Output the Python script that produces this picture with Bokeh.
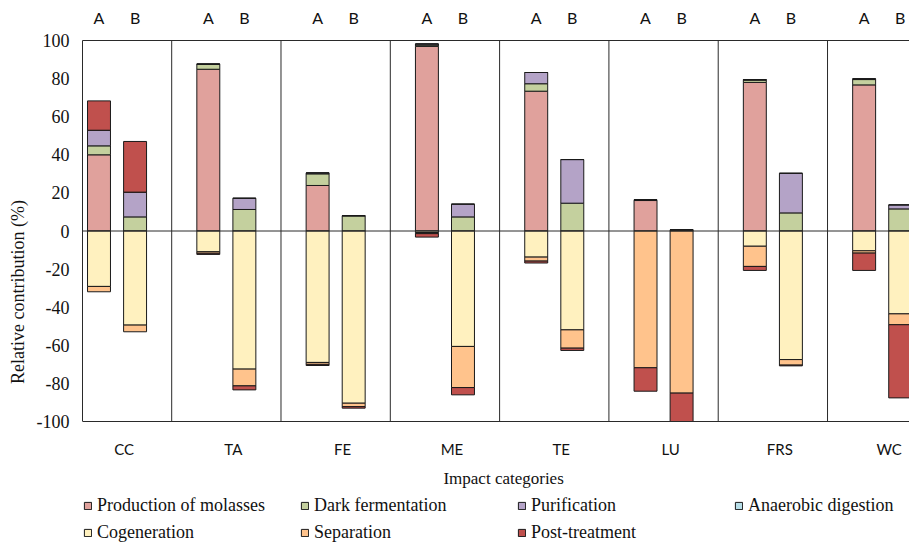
import numpy as np
from bokeh.plotting import figure
from bokeh.models import (ColumnDataSource, Range1d, LinearAxis, FixedTicker,
                          Span, Legend, LegendItem)
from bokeh.core.properties import value
from bokeh.embed import file_html
from bokeh.resources import INLINE

categories = ["CC", "TA", "FE", "ME", "TE", "LU", "FRS", "WC"]
scenarios = ["A", "B"]
y_ticks = [100, 80, 60, 40, 20, 0, -20, -40, -60, -80, -100]
y_tick_labels = ["100", "80", "60", "40", "20", "0", "-20", "-40", "-60", "-80", "-100"]

# values per bar, order: CC A, CC B, TA A, TA B, ... WC A, WC B
production_of_molasses = [40.0, 0, 84.9, 0, 23.9, 0, 96.9, 0, 73.4, 0, 16.0, 0.6, 78.0, 0, 76.7, 0]
dark_fermentation = [4.7, 7.4, 2.5, 11.3, 6.1, 8.0, 0.7, 7.4, 3.9, 14.6, 0.4, 0, 1.2, 9.5, 2.8, 11.6]
purification = [8.2, 13.0, 0.3, 5.9, 0.5, 0, 0.6, 6.7, 5.9, 22.9, 0, 0, 0.3, 20.8, 0.4, 2.1]
anaerobic_digestion = [0, 0, 0, 0, 0, 0, 0, 0, 0, 0, 0, 0, 0, 0, 0, 0]
cogeneration = [-29.1, -49.4, -10.9, -72.5, -69.0, -90.4, -0.8, -60.6, -13.7, -51.9, 0, 0, -8.0, -67.5, -10.4, -43.5]
separation = [-2.8, -3.5, -0.8, -8.8, -1.0, -1.8, -0.6, -21.6, -2.1, -9.6, -71.8, -85.1, -10.6, -2.9, -1.2, -5.7]
post_treatment = [15.4, 26.6, -0.6, -2.1, -0.6, -0.8, -1.8, -3.8, -1.0, -1.2, -12.3, -15.0, -2.1, -0.4, -9.1, -38.4]

series_names = ["Production of molasses", "Dark fermentation", "Purification",
                "Anaerobic digestion", "Cogeneration", "Separation", "Post-treatment"]
series_values = [production_of_molasses, dark_fermentation, purification,
                 anaerobic_digestion, cogeneration, separation, post_treatment]
colors = ["#E0A19C", "#C4D09E", "#B4A3C7", "#B7DEE8", "#FFF1BF", "#FFC38C", "#C0504D"]
x_axis_title = "Impact categories"
y_axis_title = "Relative contribution (%)"

y_min, y_max = -100, 100
offset = 0.165
bar_x = []
ab_ticks = []
ab_labels = {}
for i in range(len(categories)):
    for j, s in enumerate(scenarios):
        xx = i + (-offset if j == 0 else offset)
        bar_x.append(xx)
        ab_ticks.append(xx)
        ab_labels[xx] = s
bar_x = np.array(bar_x)

# frame spans the whole lower area so the legend can live inside it;
# the value scale keeps 381 px for 200 units
px_per_unit = 381 / (y_max - y_min)
frame_bottom_value = y_min - 122 / px_per_unit

p = figure(width=909, height=543, output_backend="svg", toolbar_location=None,
           x_range=Range1d(-0.316, 7.25), y_range=Range1d(frame_bottom_value, y_max),
           min_border_left=82, min_border_right=0, min_border_top=40, min_border_bottom=0,
           x_axis_location=None, y_axis_location=None)
p.outline_line_color = None
p.grid.visible = False
p.background_fill_color = "white"
p.border_fill_color = "white"

pos_base = np.zeros(len(bar_x))
neg_base = np.zeros(len(bar_x))
renderers = []
for name, vals, col in zip(series_names, series_values, colors):
    v = np.array(vals, dtype=float)
    bottom = np.where(v >= 0, pos_base, neg_base)
    top = bottom + v
    pos_base = np.where(v > 0, top, pos_base)
    neg_base = np.where(v < 0, top, neg_base)
    src = ColumnDataSource(dict(x=bar_x, bottom=bottom, top=np.maximum(top, y_min)))
    r = p.vbar(x="x", bottom="bottom", top="top", width=0.21, source=src,
               fill_color=col, line_color="#1a1a1a", line_width=1)
    renderers.append(r)

line_col = "#2a2a2a"
# zero line, bottom line and category separators
p.add_layout(Span(location=0, dimension="width", line_color=line_col, line_width=1))
p.add_layout(Span(location=y_min, dimension="width", line_color=line_col, line_width=1))
sep_x = [i + 0.5 for i in range(len(categories) - 1)]
p.segment(x0=sep_x, x1=sep_x, y0=[y_min] * len(sep_x), y1=[y_max] * len(sep_x),
          line_color=line_col, line_width=1)

serif = "Liberation Serif"
sans = "Lato"

# category labels and x-axis title under the value range
p.text(x=[i for i in range(len(categories))], y=[y_min] * len(categories), text=categories,
       x_offset=7, y_offset=27, text_align="center", text_baseline="middle",
       text_font=value(sans), text_font_size="15px", text_color="#111111")
p.text(x=[(len(categories) - 1) / 2], y=[y_min], text=[x_axis_title],
       x_offset=4, y_offset=57, text_align="center", text_baseline="middle",
       text_font=value(serif), text_font_size="17px", text_color="#111111")

yaxis = LinearAxis(ticker=FixedTicker(ticks=y_ticks), bounds=(y_min, y_max),
                   major_label_overrides={t: l for t, l in zip(y_ticks, y_tick_labels)})
yaxis.axis_label = y_axis_title
yaxis.axis_label_text_font = serif
yaxis.axis_label_text_font_style = "normal"
yaxis.axis_label_text_font_size = "18px"
yaxis.axis_label_text_color = "#111111"
yaxis.axis_label_standoff = 6
yaxis.major_label_text_font = serif
yaxis.major_label_text_font_size = "18px"
yaxis.major_label_text_color = "#111111"
yaxis.major_label_standoff = 13
yaxis.major_tick_line_color = None
yaxis.major_tick_out = 0
yaxis.major_tick_in = 0
yaxis.minor_tick_line_color = None
yaxis.axis_line_color = line_col
p.add_layout(yaxis, "left")

topaxis = LinearAxis(ticker=FixedTicker(ticks=ab_ticks), major_label_overrides=ab_labels)
topaxis.major_label_text_font = sans
topaxis.major_label_text_font_size = "16px"
topaxis.major_label_text_color = "#111111"
topaxis.major_label_standoff = 14
topaxis.major_tick_line_color = None
topaxis.major_tick_out = 0
topaxis.major_tick_in = 0
topaxis.minor_tick_line_color = None
topaxis.axis_line_color = line_col
p.add_layout(topaxis, "above")

items = [LegendItem(label=n, renderers=[r]) for n, r in zip(series_names, renderers)]
legend = Legend(items=items, location=(1, 0), orientation="horizontal", ncols=4,
                glyph_width=9, glyph_height=9, label_standoff=5, label_width=198,
                label_height=22, spacing=5, padding=0, margin=0,
                label_text_font=serif, label_text_font_size="18px",
                label_text_color="#111111",
                border_line_color=None, background_fill_alpha=0)
p.add_layout(legend, "center")

open("out.html", "w").write(file_html(p, INLINE))
